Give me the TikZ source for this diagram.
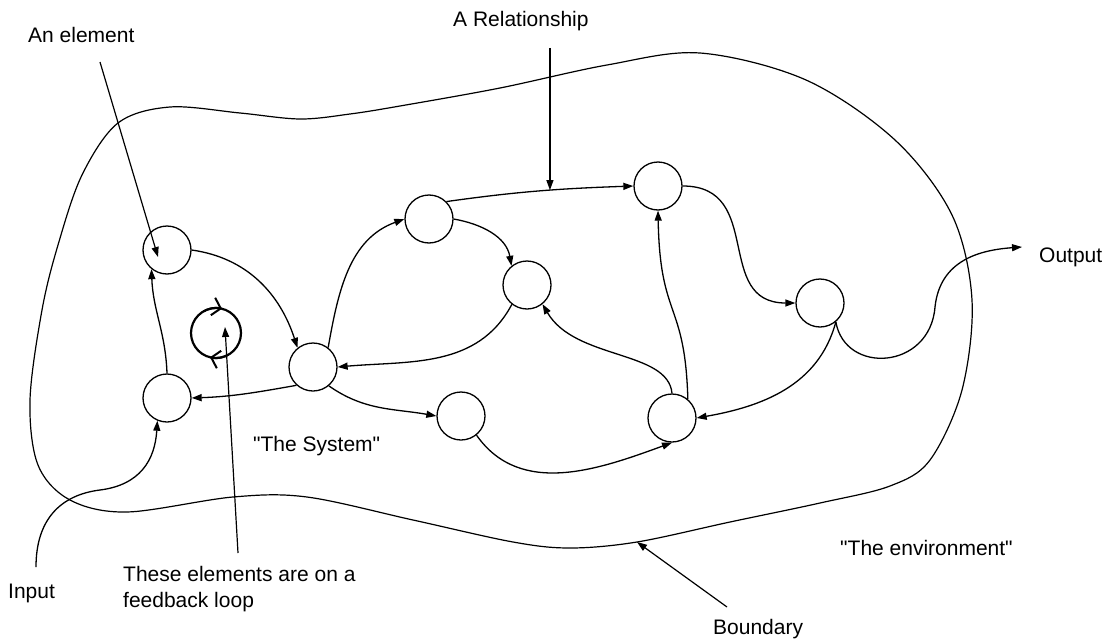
\documentclass[tikz,border=0pt]{standalone}
\usepackage{fontspec}
\newfontfamily\lblfont{Liberation Sans}
\usetikzlibrary{arrows.meta,calc}

\begin{document}
\begin{tikzpicture}[x=1pt,y=1pt,
  elem/.style={circle,draw,line width=1.3pt,minimum size=48pt,inner sep=0pt},
  conn/.style={line width=1.3pt,-{Triangle[length=10pt,width=7pt]}},
  pointer/.style={line width=1.2pt,-{Triangle[length=10pt,width=7pt]}},
  txt/.style={font=\lblfont\fontsize{21}{26}\selectfont,inner sep=0pt,anchor=base west},
  boundary/.style={line width=1.2pt},
  loopstyle/.style={circle,draw,line width=2.2pt,minimum size=50pt,inner sep=0pt,outer sep=0pt},
  barb/.style={line width=2pt,-{Straight Barb[length=8pt,width=18pt,line width=2pt]}},
]
\useasboundingbox (0,0) rectangle (1107,-642);

% system boundary
\draw[boundary] plot[smooth cycle, tension=0.55] coordinates {
  (30,-400) (42,-310) (58,-245) (82,-175) (118,-123) (170,-107)
  (240,-113) (300,-119) (350,-114) (400,-106) (500,-88) (607,-65)
  (700,-53) (806,-80) (895,-140) (952,-215) (972,-300) (962,-390)
  (930,-460) (890,-486) (820,-503) (730,-522) (637,-542) (570,-548)
  (513,-542) (413,-520) (307,-497) (233,-497) (127,-512) (70,-500)
  (38,-465)};
\coordinate (bndpt) at (637,-542);

% elements
\node[elem] (E1) at (167,-250) {};
\node[elem] (E2) at (167,-398) {};
\node[elem] (E3) at (313,-367) {};
\node[elem] (E4) at (429,-219) {};
\node[elem] (E5) at (527,-285) {};
\node[elem] (E6) at (658,-186) {};
\node[elem] (E7) at (820,-303) {};
\node[elem] (E8) at (672,-418) {};
\node[elem] (E9) at (461,-416) {};

% feedback loop symbol
\node[loopstyle] (loop) at (216,-333) {};
\draw[barb] (loop.120) arc[start angle=120,end angle=76,radius=25pt];
\draw[barb] (loop.300) arc[start angle=300,end angle=256,radius=25pt];

% labels
\node[txt] (elemlbl) at (28,-42) {An element};
\node[txt] (rellbl) at (453,-27) {A Relationship};
\node[txt] (outlbl) at (1039,-262) {Output};
\node[txt] (inlbl) at (8,-598) {Input};
\node[txt] (syslbl) at (253,-451) {"The System"};
\node[txt] (envlbl) at (840,-555) {"The environment"};
\node[txt] (bndlbl) at (713,-634) {Boundary};
\node[txt,align=left,anchor=north west] (looplbl) at (123,-566) {These elements are on a\\feedback loop};

% relationships between elements
\draw[conn] (E2.north) to[out=92,in=-88] (E1.231);
\draw[conn] (E1.east) to[out=-8,in=108] (E3.129);
\draw[conn] (E3.228) to[out=190,in=2] (E2.east);
\draw[conn] (E3.52) to[out=80,in=200] (E4.west);
\draw[conn] (E4.45) to[out=8,in=182] coordinate[pos=0.56] (relpt) (E6.west);
\draw[conn] (E4.east) to[out=-10,in=100] (E5.129);
\draw[conn] (E5.232) to[out=242,in=5] (E3.east);
\draw[conn] (E8.90) .. controls (668,-350) and (575,-360) .. (E5.309);
\draw[conn] (E8.50) .. controls (685,-300) and (660,-320) .. (E6.south);
\draw[conn] (E6.east) to[out=0,in=180,looseness=1.3] (E7.west);
\draw[conn] (E7.310) to[out=255,in=10] (E8.east);
\draw[conn] (E3.310) to[out=-35,in=170] (E9.west);
\draw[conn] (E9.309) to[out=-55,in=200] (E8.270);

% input and output
\coordinate (intail) at ($(inlbl.base west)+(28,31)$);
\draw[conn] (intail) .. controls (36,-520) and (60,-495) .. (100,-490)
  .. controls (140,-485) and (155,-460) .. (E2.247);
\coordinate (outtip) at ($(outlbl.base west)+(-17,15)$);
\draw[conn] (E7.310) .. controls (845,-375) and (930,-370) .. (935,-307)
  .. controls (940,-260) and (980,-250) .. (outtip);

% annotation pointers
\draw[pointer] ($(elemlbl.base west)+(72,-20)$) -- ($(E1.center)+(-9,-7)$);
\coordinate (reltop) at ($(rellbl.base west)+(0,-21)$);
\draw[pointer] (reltop -| relpt) -- (relpt);
\draw[pointer] ($(looplbl.north west)+(115,13)$) -- ($(loop.center)+(9,6)$);
\draw[pointer] ($(bndlbl.base west)+(14,27)$) -- (bndpt);
\end{tikzpicture}
\end{document}
